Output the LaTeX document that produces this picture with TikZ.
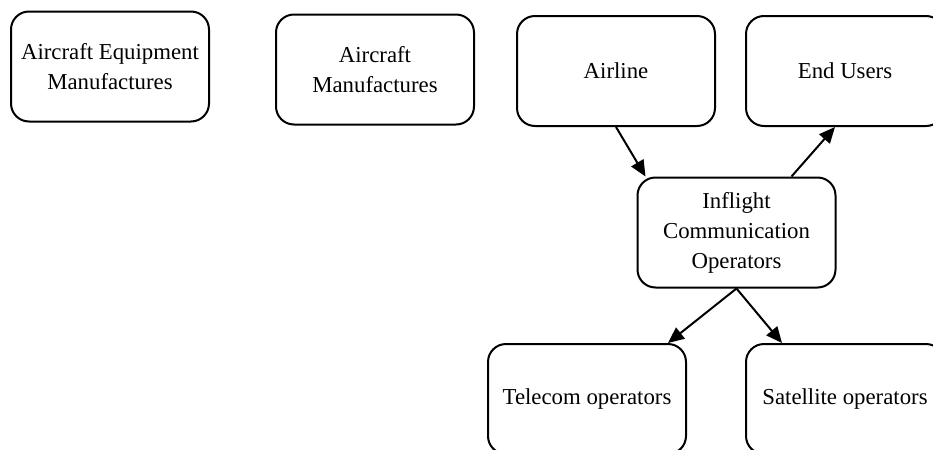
\documentclass[tikz,border=0pt]{standalone}
\usepackage{fontspec}
\setmainfont{Liberation Serif}
\usetikzlibrary{arrows.meta}
\tikzset{
    party-box/.style = {draw=black, fill=white, line width=1pt, rectangle, rounded corners=9pt, minimum width=99pt, minimum height=55pt, inner sep=0pt, align=center, font=\fontsize{11.4pt}{15pt}\selectfont},
    flow-arrow/.style = {-{Triangle[length=8pt,width=7pt]}, line width=1pt},
}

\begin{document}
\begin{tikzpicture}[x=0.5pt, y=-0.5pt]
\useasboundingbox (0,0) rectangle (933,450);
\node [party-box] (equipment) at (110,66.5) {Aircraft Equipment\\Manufactures};
\node [party-box] (aircraft) at (375,69.5) {Aircraft\\Manufactures};
\node [party-box] (airline) at (616,71) {Airline};
\node [party-box] (users) at (845,71) {End Users};
\node [party-box] (operators) at (736.5,232.5) {Inflight\\Communication\\Operators};
\node [party-box] (telecom) at (587,399) {Telecom operators};
\node [party-box] (satellite) at (845,399) {Satellite operators};
\draw [flow-arrow] (airline.south) -- ([xshift=4.5pt]operators.north west);
\draw [flow-arrow] ([xshift=27.5pt]operators.north) -- ([xshift=-5pt]users.south);
\draw [flow-arrow] (operators.south) -- ([xshift=40.5pt]telecom.north);
\draw [flow-arrow] (operators.south) -- ([xshift=-31.5pt]satellite.north);
\end{tikzpicture}
\end{document}
